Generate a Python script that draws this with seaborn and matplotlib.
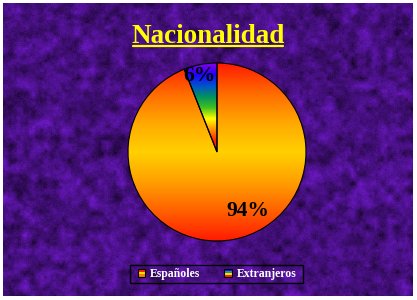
import numpy as np
import matplotlib
matplotlib.use("Agg")
import matplotlib.pyplot as plt
import seaborn as sns
from matplotlib.patches import Rectangle
from matplotlib.lines import Line2D
from matplotlib.legend_handler import HandlerBase

# Data
categories = ["Españoles", "Extranjeros"]
shares = [94, 6]
title = "Nacionalidad"

sns.set_style("white")
plt.rcParams["font.family"] = ["Liberation Serif", "DejaVu Serif"]

W, H = 417, 300
fig = plt.figure(figsize=(W / 100, H / 100), dpi=100, facecolor="white")


def upsample(a, shape):
    """Bilinear resize of a 2-D array."""
    ys = np.linspace(0, a.shape[0] - 1, shape[0])
    xs = np.linspace(0, a.shape[1] - 1, shape[1])
    rows = np.array([np.interp(xs, np.arange(a.shape[1]), row) for row in a])
    return np.array([np.interp(ys, np.arange(a.shape[0]), col)
                     for col in rows.T]).T


# Textured purple backdrop: soft blotches plus fine grain
bg = fig.add_axes([3 / W, 4 / H, 410 / W, 293 / H])
bg.set_axis_off()
rng = np.random.default_rng(7)
shape = (293, 410)
coarse = upsample(rng.normal(0.0, 1.0, (40, 56)), shape)
mid = upsample(rng.normal(0.0, 1.0, (98, 137)), shape)
fine = rng.normal(0.0, 1.0, shape)
base = np.array([70, 16, 128]) / 255.0
shade = 1.0 + 0.22 * coarse + 0.10 * mid + 0.06 * fine
tex = np.clip(base[None, None, :] * shade[..., None], 0, 1)
bg.imshow(tex, aspect="auto", interpolation="nearest", extent=(0, 1, 0, 1))
bg.set_xlim(0, 1)
bg.set_ylim(0, 1)

# Pie
cx, cy, r = 217, H - 152, 89
ax = fig.add_axes([(cx - r) / W, (cy - r) / H, 2 * r / W, 2 * r / H])
ax.set_axis_off()
wedges, _ = ax.pie(shares, startangle=90, counterclock=False,
                   wedgeprops=dict(facecolor="none", edgecolor="black",
                                   linewidth=0.8, zorder=3))
ax.set_xlim(-1, 1)
ax.set_ylim(-1, 1)
ax.set_aspect("equal")

# Warm vertical gradient for the large slice
warm = sns.blend_palette(["#ff1a00", "#ff6a00", "#ffa800", "#ffd000",
                          "#ffa000", "#ff6000", "#ff1a00"], as_cmap=True)
grad = np.linspace(0, 1, 256)[:, None]
img = ax.imshow(grad, cmap=warm, extent=(-1, 1, -1, 1), aspect="auto",
                interpolation="bilinear", origin="upper", zorder=1)
img.set_clip_path(wedges[0])

# Rainbow vertical gradient for the small slice
rainbow = sns.blend_palette(["#8a00e8", "#2000ff", "#0050d0", "#009060",
                             "#40c020", "#ffff00", "#ff9000", "#ff2000",
                             "#e8205a"], as_cmap=True)
img2 = ax.imshow(grad, cmap=rainbow, extent=(-1, 1, 0, 1), aspect="auto",
                 interpolation="bilinear", origin="upper", zorder=1)
img2.set_clip_path(wedges[1])

# Percentage labels
label_pos = [(0.35, -0.66), (-0.2, 0.85)]
for v, (lx, ly) in zip(shares, label_pos):
    ax.text(lx, ly, f"{v}%", ha="center", va="center", fontsize=15.5,
            fontweight="semibold", color="black", zorder=4)

# Title with underline
fig.text(208 / W, (H - 43) / H, title, ha="center", va="baseline",
         fontsize=19.5, fontweight="bold", color="#ffff00")
fig.add_artist(Line2D([133 / W, 283 / W], [(H - 46) / H] * 2,
                      color="#ffff00", linewidth=1.6))

# Legend
class StripeHandler(HandlerBase):
    def __init__(self, colors):
        super().__init__()
        self.colors = colors

    def create_artists(self, legend, orig_handle, xdescent, ydescent,
                       width, height, fontsize, trans):
        side = min(width, height)
        x0 = -xdescent + (width - side) / 2
        y0 = -ydescent + (height - side) / 2
        n = len(self.colors)
        arts = []
        for i, c in enumerate(self.colors):
            yy = y0 + side * (1 - (i + 1) / n)
            arts.append(Rectangle((x0, yy), side, side / n, facecolor=c,
                                  edgecolor="none", transform=trans))
        arts.append(Rectangle((x0, y0), side, side, fill=False,
                              edgecolor="black", linewidth=0.8,
                              transform=trans))
        return arts

h1 = Rectangle((0, 0), 1, 1)
h2 = Rectangle((0, 0), 1, 1)
leg = fig.legend([h1, h2], categories, loc="center",
                 bbox_to_anchor=(217 / W, (H - 274) / H), ncol=2,
                 frameon=False, handlelength=0.65,
                 handleheight=0.65, handletextpad=0.4, columnspacing=2.0,
                 prop=dict(weight="bold", size=8.5),
                 handler_map={h1: StripeHandler(["#ff2000", "#ffe000", "#ff8000"]),
                              h2: StripeHandler(["#3010ff", "#10a080", "#ffe000", "#ff2020"])})
for t in leg.get_texts():
    t.set_color("white")
fig.add_artist(Rectangle((130 / W, (H - 283) / H), 173 / W, 18 / H,
                         transform=fig.transFigure, fill=False,
                         edgecolor="black", linewidth=1.0))

fig.savefig("out.png", dpi=100, facecolor="white")
